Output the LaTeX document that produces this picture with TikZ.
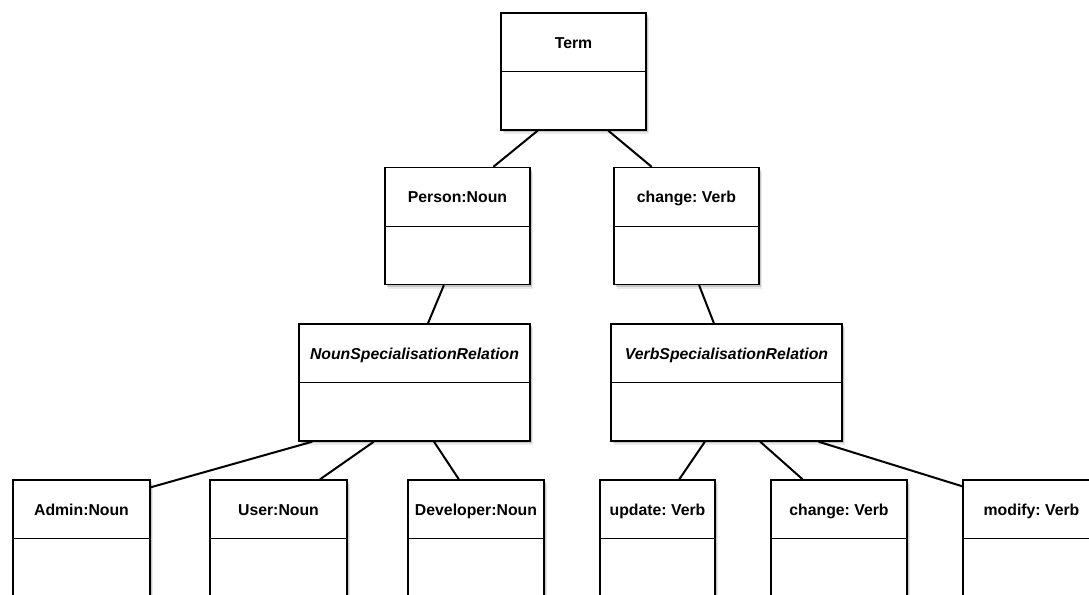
\documentclass[tikz,border=0pt]{standalone}
\usepackage{fontspec}
\setmainfont{Liberation Sans}
\usepackage{tikz}
\usetikzlibrary{calc}
\usetikzlibrary{shadows}
\usetikzlibrary{positioning}
\frenchspacing

\begin{document}
\begin{tikzpicture}[
            x = 0.5pt, y = -0.5pt, % pixel grid, y going down
            semithick % line style
            ]

        \tikzstyle{umlclass}=[
            draw,
            line width = 0.7pt,
            fill = white,
            inner sep = 0pt,
            minimum height = 58.5pt,
            text height = 17.5pt,
            text depth = 41pt,
            font = \fontsize{7.9}{9.5}\selectfont\bfseries,
            drop shadow = {shadow xshift = 1.6pt, shadow yshift = -2pt,
                           fill = black, opacity = 0.08},
            drop shadow = {shadow xshift = 0.9pt, shadow yshift = -1.1pt,
                           fill = black, opacity = 0.16},
            path picture = {\draw[line width = 0.5pt]
                (path picture bounding box.west) -- (path picture bounding box.east);}
        ]
        \tikzstyle{link}=[line width = 1pt]

        \clip (0,0) rectangle (1089,595);
        \fill[white] (0,0) rectangle (1089,595);

	% top level
	\node[umlclass, minimum width = 72.5pt] (Term) at (573.5,71.5) {Term};

	% word level
	\node[umlclass, minimum width = 72.5pt] (Person) at (457.5,226) {Person:Noun};
	\node[umlclass, minimum width = 72.5pt] (Change) at (686.5,226) {change: Verb};

	% relation level
	\node[umlclass, minimum width = 115.5pt] (NounRel) at (414.5,382.5) {\itshape NounSpecialisationRelation};
	\node[umlclass, minimum width = 115.5pt] (VerbRel) at (726.5,382.5) {\itshape VerbSpecialisationRelation};

	% specialisations
	\node[umlclass, minimum width = 68.5pt] (Admin) at (81.5,538.5) {Admin:Noun};
	\node[umlclass, minimum width = 68.5pt] (User) at (278.5,538.5) {User:Noun};
	\node[umlclass, minimum width = 68pt] (Developer) at (476,538.5) {Developer:Noun};
	\node[umlclass, minimum width = 57.5pt] (Update) at (657.5,538.5) {update: Verb};
	\node[umlclass, minimum width = 68pt] (Change2) at (839,538.5) {change: Verb};
	\node[umlclass, minimum width = 68.5pt] (Modify) at (1031.5,538.5) {modify: Verb};

	% connectors
	\draw[link] ($(Term.south west)!.255!(Term.south east)$) -- ($(Person.north west)!.745!(Person.north east)$);
	\draw[link] ($(Term.south west)!.738!(Term.south east)$) -- ($(Change.north west)!.262!(Change.north east)$);

	\draw[link] ($(Person.south west)!.407!(Person.south east)$) -- ($(NounRel.north west)!.558!(NounRel.north east)$);
	\draw[link] ($(Change.south west)!.586!(Change.south east)$) -- ($(VerbRel.north west)!.446!(VerbRel.north east)$);

	\draw[link] ($(NounRel.south west)!.06!(NounRel.south east)$) -- ([yshift=-4pt]Admin.north east);
	\draw[link] ($(NounRel.south west)!.325!(NounRel.south east)$) -- ($(User.north west)!.80!(User.north east)$);
	\draw[link] ($(NounRel.south west)!.584!(NounRel.south east)$) -- ($(Developer.north west)!.375!(Developer.north east)$);

	\draw[link] ($(VerbRel.south west)!.407!(VerbRel.south east)$) -- ($(Update.north west)!.687!(Update.north east)$);
	\draw[link] ($(VerbRel.south west)!.645!(VerbRel.south east)$) -- ($(Change2.north west)!.235!(Change2.north east)$);
	\draw[link] ($(VerbRel.south west)!.896!(VerbRel.south east)$) -- ([yshift=-3.5pt]Modify.north west);

\end{tikzpicture}
\end{document}
